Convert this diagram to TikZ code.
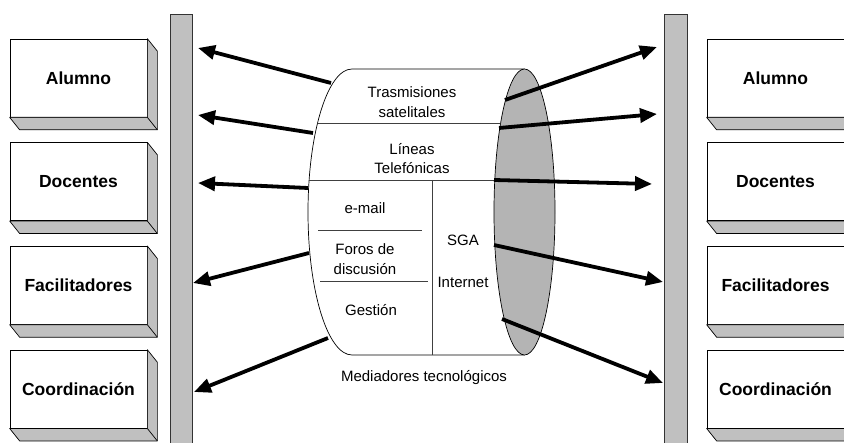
\documentclass[tikz,border=0pt]{standalone}
\usepackage{fontspec}
\setmainfont{Liberation Sans}
\usetikzlibrary{arrows.meta, positioning, calc}

\definecolor{bargray}{RGB}{192,192,192}
\definecolor{capgray}{RGB}{180,180,180}

\begin{document}
\begin{tikzpicture}[
    x=1pt, y=-1pt,
    node distance=25pt and 25pt,
    rolebox/.style={
        rectangle,
        draw=black,
        fill=white,
        line width=0.7pt,
        minimum width=137pt,
        minimum height=78pt,
        inner sep=0pt,
        font=\bfseries\fontsize{17.5}{20}\selectfont
    },
    sideface/.style={
        draw=black,
        fill=bargray,
        line width=0.7pt,
        line join=round
    },
    channelbar/.style={
        rectangle,
        draw=black!80,
        fill=bargray,
        line width=0.7pt,
        minimum width=22pt,
        minimum height=440pt,
        inner sep=0pt
    },
    mediatext/.style={
        align=center,
        inner sep=0pt,
        font=\fontsize{15}{19.5}\selectfont
    },
    divider/.style={
        draw=black!75,
        line width=0.6pt
    },
    arrow/.style={
        -{Triangle[length=17pt, width=14pt]},
        line width=3.8pt,
        draw=black
    }
]

\clip (0,0) rectangle (844,443);

% Channel bars
\node[channelbar, anchor=north] (lbar) at (181,14) {};
\node[channelbar, anchor=north, minimum width=23pt] (rbar) at (675.5,14) {};

% Left column
\node[rolebox] (la) at (78.5,78) {Alumno};
\node[rolebox, below=of la] (ld) {Docentes};
\node[rolebox, below=of ld] (lf) {Facilitadores};
\node[rolebox, below=of lf] (lc) {Coordinación};

% Right column
\node[rolebox] (ra) at (775.5,78) {Alumno};
\node[rolebox, below=of ra] (rd) {Docentes};
\node[rolebox, below=of rd] (rf) {Facilitadores};
\node[rolebox, below=of rf] (rc) {Coordinación};

% Extruded faces of the boxes
\foreach \b in {la,ld,lf,lc,ra,rd,rf,rc} {
    \filldraw[sideface] (\b.north east) -- ++(10,12.5)
        -- ($(\b.south east)+(10,12.5)$) -- ($(\b.south west)+(10,12.5)$)
        -- (\b.south west) -- (\b.south east) -- cycle;
    \draw[line width=0.7pt] (\b.south east) -- ++(10,12.5);
}

% Cylinder body
\draw[line width=0.7pt] (524.5,69) -- (352,69)
    arc[start angle=-90, end angle=-270, x radius=44, y radius=143]
    -- (524.5,355);
\draw[line width=0.7pt, fill=capgray] (524.5,212) ellipse[x radius=30.5, y radius=143];

% Inner partitions
\begin{scope}
    \clip (352,69) -- (524.5,69)
        arc[start angle=-90, end angle=-270, x radius=30.5, y radius=143]
        -- (352,355)
        arc[start angle=90, end angle=270, x radius=44, y radius=143] -- cycle;
    \draw[divider] (300,123) -- (520,123);
    \draw[divider] (300,180) -- (520,180);
    \draw[divider] (432,180) -- (432,360);
\end{scope}
\draw[divider] (318,230) -- (422,230);
\draw[divider] (320,281) -- (428,281);

% Media labels
\node[mediatext] (sat) at (412,102) {Trasmisiones\\satelitales};
\node[mediatext] (tel) at (412,158.5) {Líneas\\Telefónicas};
\node[mediatext] (mail) at (365,208) {e-mail};
\node[mediatext] (foros) at (365,259) {Foros de\\discusión};
\node[mediatext] (gest) at (371,310) {Gestión};
\node[mediatext] (sga) at (463,240) {SGA};
\node[mediatext] (inet) at (463,282) {Internet};
\node[mediatext] (medios) at (424,378) {Mediadores tecnológicos};

% Arrow ends, left side
\coordinate (cl1) at (331,83);  \coordinate (tl1) at (198,48);
\coordinate (cl2) at (313,133); \coordinate (tl2) at (198,115);
\coordinate (cl3) at (308,188); \coordinate (tl3) at (198,183);
\coordinate (cl4) at (309,253); \coordinate (tl4) at (193,283);
\coordinate (cl5) at (328,338); \coordinate (tl5) at (194,392);

% Arrow ends, right side
\coordinate (cr1) at (505,100); \coordinate (tr1) at (657,47);
\coordinate (cr2) at (499,128); \coordinate (tr2) at (657,114);
\coordinate (cr3) at (494,180); \coordinate (tr3) at (652,184);
\coordinate (cr4) at (494,245); \coordinate (tr4) at (663,282);
\coordinate (cr5) at (502,319); \coordinate (tr5) at (663,383);

% Arrows
\foreach \i in {1,...,5} {
    \draw[arrow] (cl\i) -- (tl\i);
    \draw[arrow] (cr\i) -- (tr\i);
}

\end{tikzpicture}
\end{document}
